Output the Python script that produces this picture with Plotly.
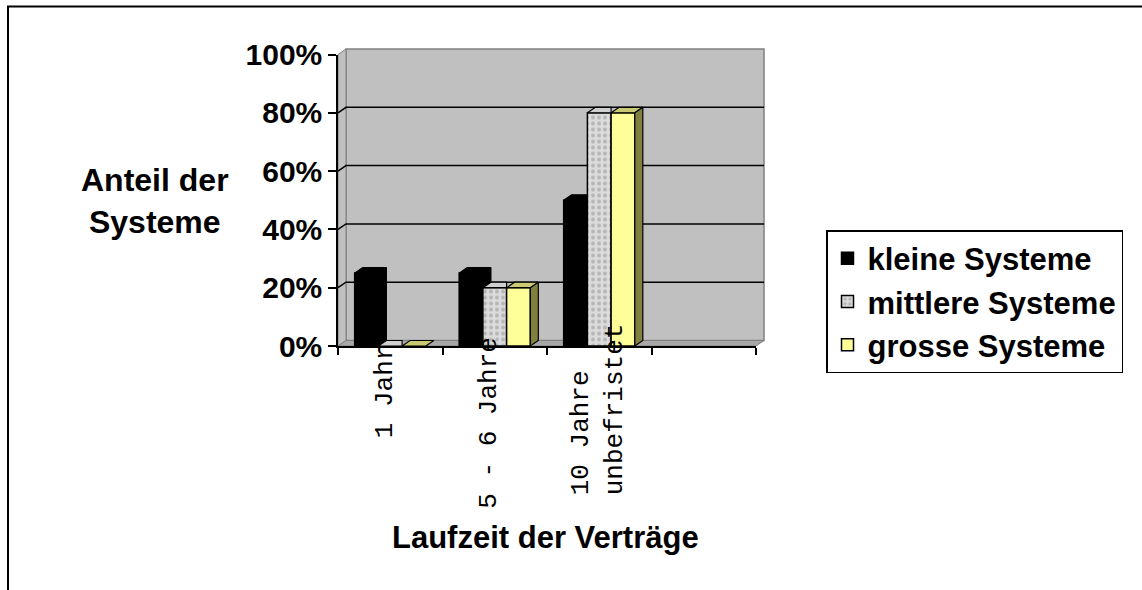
import plotly.graph_objects as go

# ---------------- data ----------------
categories = ["1 Jahr", "5 - 6 Jahre", "10 Jahre<br>unbefristet", ""]
series_names = ["kleine Systeme", "mittlere Systeme", "grosse Systeme"]
kleine = [0.25, 0.25, 0.50, None]
mittlere = [0.00, 0.20, 0.80, None]
grosse = [0.00, 0.20, 0.80, None]
y_ticks = [0, 0.2, 0.4, 0.6, 0.8, 1.0]
y_tick_labels = ["0%", "20%", "40%", "60%", "80%", "100%"]
x_title = "Laufzeit der Verträge"
y_title = "Anteil der<br>Systeme"

# ---------------- style / layout constants ----------------
W, H = 1142, 590
FL, FR, FB, FT = 338, 756, 346, 54.5      # front plane (px)
DX, DY = 8, 5.5                            # 3D depth offset (px)
BAR_W = 0.227
SANS = "Liberation Sans, Arial, sans-serif"
MONO = "Liberation Mono, Courier New, monospace"
label_bottom_px = [440, 511, 497]
label_xshift = [-5, -6, -1]

front_colors = ["#000000", "#D6D6D6", "#FFFF99"]
top_colors = ["#000000", "#CFCFCF", "#CACA72"]
side_colors = ["#000000", "#8C8C8C", "#80803F"]


def px_x(p):
    return p / W


def px_y(p):
    return 1 - p / H


x_pos = list(range(len(categories)))
xr = [-0.5, len(categories) - 0.5]
px_per_cat = (FR - FL) / (xr[1] - xr[0])
px_per_val = (FB - FT) / 1.0
d = DX / px_per_cat
e = DY / px_per_val

series = [kleine, mittlere, grosse]

fig = go.Figure()

# bars (front faces)
for k, (name, vals) in enumerate(zip(series_names, series)):
    marker = dict(color=front_colors[k], line=dict(color="black", width=1.5))
    if k == 1:
        marker["pattern"] = dict(shape=".", fgcolor="#8E8E8E", bgcolor="#DCDCDC",
                                 size=6, solidity=0.35)
    fig.add_trace(go.Bar(
        x=x_pos, y=vals, name=name, width=BAR_W,
        offset=-1.5 * BAR_W + k * BAR_W, marker=marker,
        legendgroup=name, hoverinfo="skip",
    ))


def poly(pts, color):
    xs = [p[0] for p in pts] + [pts[0][0]]
    ys = [p[1] for p in pts] + [pts[0][1]]
    fig.add_trace(go.Scatter(
        x=xs, y=ys, mode="lines", fill="toself", fillcolor=color,
        line=dict(color="black", width=1.2), showlegend=False, hoverinfo="skip",
    ))


# 3D top / side faces computed from the data
for k, vals in enumerate(series):
    for i, v in enumerate(vals):
        if v is None:
            continue
        x0 = x_pos[i] - 1.5 * BAR_W + k * BAR_W
        x1 = x0 + BAR_W
        v_next = series[k + 1][i] if k + 1 < len(series) else None
        if v_next is not None and v_next >= v:
            poly([(x0, v), (x1, v), (x1, v + e), (x0 + d, v + e)], top_colors[k])
        else:
            poly([(x0, v), (x1, v), (x1 + d, v + e), (x0 + d, v + e)], top_colors[k])
        if v_next is None:
            if v > 0:
                poly([(x1, 0), (x1, v), (x1 + d, v + e), (x1 + d, e)], side_colors[k])
        elif v_next < v:
            poly([(x1, v_next), (x1, v), (x1 + d, v + e), (x1 + d, v_next + e)],
                 side_colors[k])

# ---------------- decorative walls (paper coords) ----------------
shapes = []
BL, BR, BB, BT = FL + DX, FR + DX, FB - DY, FT - DY
# back wall
shapes.append(dict(type="rect", xref="paper", yref="paper", layer="below",
                   x0=px_x(BL), x1=px_x(BR), y0=px_y(BB), y1=px_y(BT),
                   fillcolor="#C0C0C0", line=dict(color="#808080", width=1.5)))
# left wall
shapes.append(dict(type="path", xref="paper", yref="paper", layer="below",
                   path=f"M{px_x(FL)},{px_y(FB)} L{px_x(FL)},{px_y(FT)} "
                        f"L{px_x(BL)},{px_y(BT)} L{px_x(BL)},{px_y(BB)} Z",
                   fillcolor="#C0C0C0", line=dict(color="#808080", width=1)))
# floor
shapes.append(dict(type="path", xref="paper", yref="paper", layer="below",
                   path=f"M{px_x(FL)},{px_y(FB)} L{px_x(BL)},{px_y(BB)} "
                        f"L{px_x(BR)},{px_y(BB)} L{px_x(FR)},{px_y(FB)} Z",
                   fillcolor="#A8A8A8", line=dict(color="#808080", width=1)))
# gridlines
for t in y_ticks[1:-1]:
    yf = FB - t * px_per_val
    yb = yf - DY
    shapes.append(dict(type="path", xref="paper", yref="paper", layer="below",
                       path=f"M{px_x(FL)},{px_y(yf)} L{px_x(BL)},{px_y(yb)} "
                            f"L{px_x(BR)},{px_y(yb)}",
                       line=dict(color="black", width=1.5)))
# outer frame
shapes.append(dict(type="rect", xref="paper", yref="paper", layer="below",
                   x0=px_x(8), x1=px_x(1170), y0=px_y(6.5), y1=px_y(620),
                   line=dict(color="black", width=2), fillcolor="rgba(0,0,0,0)"))

# ---------------- annotations ----------------
annotations = []
for i, lab in enumerate(categories[:3]):
    annotations.append(dict(
        text=lab, x=x_pos[i], xref="x", y=px_y(label_bottom_px[i]), yref="paper",
        xanchor="center", yanchor="bottom", textangle=-90, showarrow=False,
        align="left", xshift=label_xshift[i],
        font=dict(family=MONO, size=26, color="black"),
    ))
annotations.append(dict(text=x_title, x=px_x(545), y=px_y(537), xref="paper", yref="paper",
                        xanchor="center", yanchor="middle", showarrow=False,
                        font=dict(family=SANS, size=31, color="black", weight="bold")))
annotations.append(dict(text=y_title, x=px_x(155), y=px_y(201), xref="paper", yref="paper",
                        xanchor="center", yanchor="middle", showarrow=False, align="center",
                        font=dict(family=SANS, size=32, color="black", weight="bold")))

fig.update_layout(
    width=W, height=H,
    margin=dict(l=0, r=0, t=0, b=0, pad=0, autoexpand=False),
    paper_bgcolor="white", plot_bgcolor="rgba(0,0,0,0)",
    barmode="overlay",
    showlegend=True,
    legend=dict(x=px_x(826), y=px_y(230), xanchor="left", yanchor="top",
                bgcolor="white", bordercolor="black", borderwidth=1.5,
                font=dict(family=SANS, size=31, color="black", weight="bold"),
                traceorder="grouped", tracegroupgap=0),
    xaxis=dict(domain=[px_x(FL), px_x(FR)], range=xr, automargin=False,
               tickvals=[p - 0.5 for p in x_pos] + [x_pos[-1] + 0.5],
               ticks="outside", ticklen=7, tickwidth=1.5, tickcolor="black",
               showticklabels=False, showline=True, linecolor="black", linewidth=1.5,
               showgrid=False, zeroline=False, fixedrange=True),
    yaxis=dict(domain=[px_y(FB), px_y(FT)], range=[0, 1], automargin=False,
               tickvals=y_ticks, ticktext=y_tick_labels,
               ticks="outside", ticklen=8, tickwidth=1.5, tickcolor="black",
               ticklabelstandoff=0,
               tickfont=dict(family=SANS, size=30, color="black", weight="bold"),
               showline=True, linecolor="black", linewidth=1.5,
               showgrid=False, zeroline=False, fixedrange=True),
    shapes=shapes,
    annotations=annotations,
)

fig.write_html("out.html", config={"displayModeBar": False},
               post_script="document.body.style.margin='0';document.body.style.overflow='hidden';")
